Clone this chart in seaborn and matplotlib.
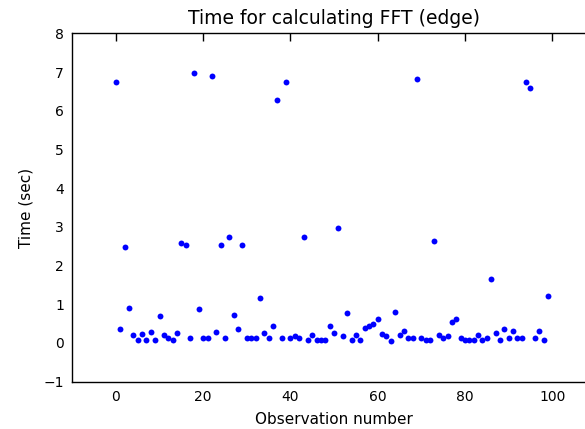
import matplotlib
matplotlib.use("Agg")
import matplotlib.pyplot as plt
import seaborn as sns
import pandas as pd

observation = list(range(100))
time_sec = [
    6.74, 0.37, 2.47, 0.90, 0.20, 0.08, 0.23, 0.08, 0.29, 0.08,
    0.69, 0.20, 0.14, 0.08, 0.25, 2.59, 2.53, 0.12, 6.97, 0.87,
    0.12, 0.12, 6.89, 0.29, 2.53, 0.12, 2.73, 0.73, 0.35, 2.53,
    0.12, 0.14, 0.14, 1.16, 0.26, 0.12, 0.43, 6.28, 0.14, 6.74,
    0.12, 0.18, 0.12, 2.73, 0.08, 0.20, 0.08, 0.08, 0.08, 0.43,
    0.26, 2.97, 0.17, 0.78, 0.08, 0.20, 0.08, 0.40, 0.43, 0.50,
    0.61, 0.23, 0.18, 0.06, 0.81, 0.20, 0.32, 0.14, 0.12, 6.83,
    0.12, 0.08, 0.08, 2.64, 0.20, 0.14, 0.17, 0.55, 0.61, 0.12,
    0.08, 0.08, 0.08, 0.20, 0.08, 0.12, 1.65, 0.25, 0.08, 0.37,
    0.12, 0.32, 0.12, 0.12, 6.74, 6.59, 0.14, 0.32, 0.08, 1.22,
]
x_ticks = [0, 20, 40, 60, 80, 100]
y_ticks = [-1, 0, 1, 2, 3, 4, 5, 6, 7, 8]

df = pd.DataFrame({"obs": observation, "time": time_sec})

sns.set_style("white")
plt.rcParams.update({
    "font.family": ["DejaVu Sans"],
    "xtick.direction": "in",
    "ytick.direction": "in",
    "xtick.top": True,
    "ytick.right": True,
    "xtick.major.size": 6,
    "ytick.major.size": 6,
    "axes.edgecolor": "black",
    "axes.linewidth": 1.0,
})

fig = plt.figure(figsize=(5.85, 4.29), dpi=100)
ax = fig.add_axes([72.3 / 585, 1 - 381.7 / 429, (595.9 - 72.3) / 585, (381.7 - 33.3) / 429])
sns.scatterplot(data=df, x="obs", y="time", ax=ax, color="blue", s=18, linewidth=0, legend=False)
ax.set_xlim(-10, 110)
ax.set_ylim(-1, 8)
ax.set_xticks(x_ticks)
ax.set_yticks(y_ticks)
ax.set_yticklabels([("\u2212" + str(abs(v))) if v < 0 else str(v) for v in y_ticks])
ax.tick_params(labelsize=10, colors="black", pad=6, width=1)
ax.set_xlabel("Observation number", fontsize=11, color="black", labelpad=6)
ax.set_ylabel("Time (sec)", fontsize=11, color="black", labelpad=7)
ax.set_title("Time for calculating FFT (edge)", fontsize=13.5, color="black", pad=7)
for s in ax.spines.values():
    s.set_visible(True)
    s.set_color("black")
fig.savefig("out.png", dpi=100)
